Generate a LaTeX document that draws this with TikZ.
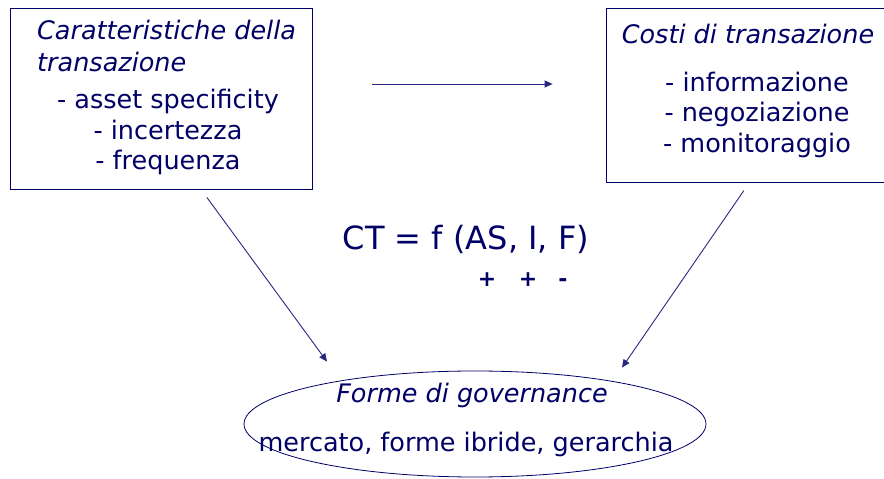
\documentclass[tikz,border=0pt]{standalone}
\usepackage{fontspec}
\setmainfont{DejaVu Sans}
\usetikzlibrary{arrows.meta,shapes.geometric}
\definecolor{navy}{RGB}{0,0,102}
\definecolor{wire}{RGB}{40,40,130}
\tikzset{
    panel/.style={rectangle, draw=navy, line width=0.8pt, inner sep=0pt},
    oval/.style={ellipse, draw=navy, line width=0.8pt, inner sep=0pt},
    head/.style={font=\fontsize{25.5}{30}\selectfont\itshape, text=navy, inner sep=0pt},
    item/.style={font=\fontsize{25.5}{30}\selectfont, text=navy, inner sep=0pt, anchor=base},
    sign/.style={item, font=\bfseries\fontsize{22}{26}\selectfont},
    arr/.style={-{Triangle[length=8pt,width=7pt]}, draw=wire, line width=0.9pt}
}

\begin{document}
\begin{tikzpicture}[x=1pt,y=1pt]
    \useasboundingbox (0,0) rectangle (884,479);
    \fill[white] (0,0) rectangle (884,479);

    % boxes
    \node[panel, minimum width=302pt, minimum height=181pt] (lbox) at (161,380.5) {};
    \node[panel, minimum width=290pt, minimum height=174pt] (rbox) at (751,384) {};
    \node[oval, minimum width=462pt, minimum height=106pt] (govern) at (475,55) {};

    % left box text
    \node[head, anchor=base west] (lhead1) at (37,439) {Caratteristiche della};
    \node[head, anchor=base west] (lhead2) at (37,407) {transazione};
    \node[item] (asset) at (168,370) {- asset specificity};
    \node[item] (incert) at (168,339) {- incertezza};
    \node[item] (freq) at (168,309) {- frequenza};

    % right box text
    \node[head, anchor=base] (rhead) at (748,435) {Costi di transazione};
    \node[item] (info) at (757,387) {- informazione};
    \node[item] (nego) at (757,357) {- negoziazione};
    \node[item] (moni) at (757,326) {- monitoraggio};

    % formula
    \node[item, font=\fontsize{32}{38}\selectfont] (ct) at (466,229) {CT = f (AS, I, F)};
    \node[sign] (pa) at (487,192) {+};
    \node[sign] (pb) at (528,192) {+};
    \node[sign] (pc) at (563,192) {-};

    % ellipse text
    \node[head, anchor=base] (ghead) at (472,76) {Forme di governance};
    \node[item] (forms) at (466,27) {mercato, forme ibride, gerarchia};

    % arrows
    \draw[arr, shorten <=60pt, shorten >=53pt] ([yshift=14.5pt]lbox.east) -- ([yshift=11pt]rbox.west);
    \draw[arr, shorten <=10pt] ([xshift=40pt]lbox.south) -- ([xshift=-148pt,yshift=9pt]govern.north);
    \draw[arr, shorten <=10pt] ([xshift=-1.5pt]rbox.south) -- ([xshift=147pt,yshift=3pt]govern.north);
\end{tikzpicture}
\end{document}
